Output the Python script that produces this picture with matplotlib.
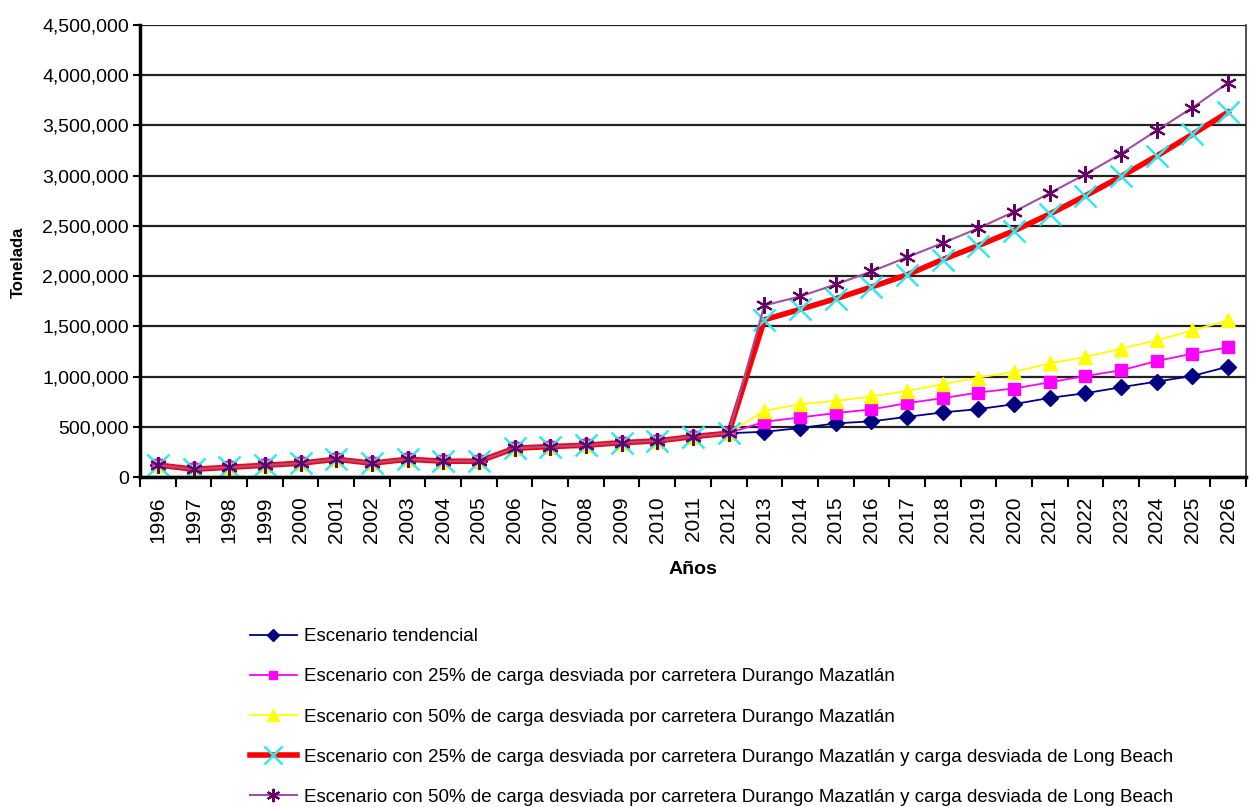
import matplotlib.pyplot as plt
from matplotlib.ticker import FuncFormatter, MultipleLocator

# Años y escenarios (toneladas)
years = list(range(1996, 2027))

base = [120000, 77000, 97000, 117000, 137000, 177000, 137000, 177000, 157000,
        157000, 286000, 303000, 316000, 342000, 359000, 402000, 436000]

tendencial = base + [450000, 487000, 534000, 554000, 599000, 643000, 676000,
                     725000, 788000, 834000, 894000, 950000, 1006000, 1099000]
carga_25 = base + [550000, 593000, 636000, 673000, 735000, 785000, 841000,
                   881000, 943000, 1006000, 1062000, 1155000, 1228000, 1291000]
carga_50 = base + [659000, 725000, 758000, 802000, 857000, 924000, 990000,
                   1046000, 1132000, 1195000, 1278000, 1361000, 1460000, 1560000]
carga_25_lb = base + [1565000, 1669000, 1775000, 1891000, 2013000, 2165000, 2304000,
                      2452000, 2618000, 2800000, 2992000, 3196000, 3412000, 3633000]
carga_50_lb = base + [1708000, 1798000, 1917000, 2046000, 2188000, 2330000, 2476000,
                      2641000, 2826000, 3015000, 3220000, 3451000, 3677000, 3925000]

labels = [
    'Escenario tendencial',
    'Escenario con 25% de carga desviada por carretera Durango Mazatlán',
    'Escenario con 50% de carga desviada por carretera Durango Mazatlán',
    'Escenario con 25% de carga desviada por carretera Durango Mazatlán y carga desviada de Long Beach',
    'Escenario con 50% de carga desviada por carretera Durango Mazatlán y carga desviada de Long Beach',
]

plt.rcParams['font.family'] = ['Liberation Sans', 'DejaVu Sans']

fig = plt.figure(figsize=(12.54, 8.07), dpi=100)
ax = fig.add_axes([140 / 1254, 1 - 477 / 807, (1246 - 140) / 1254, (477 - 25) / 807])

x = list(range(len(years)))

ax.plot(x, tendencial, color='#000080', lw=1.3, marker='D', ms=8,
        mfc='#000080', mec='#000080', label=labels[0])
ax.plot(x, carga_25, color='#FF00FF', lw=1.3, marker='s', ms=8,
        mfc='#FF00FF', mec='#FF00FF', label=labels[1])
ax.plot(x, carga_50, color='#FFFF00', lw=1.3, marker='^', ms=10,
        mfc='#FFFF00', mec='#FFFF00', label=labels[2])
ax.plot(x, carga_25_lb, color='#FF0000', lw=4, marker='x', ms=16, mew=1.8,
        mec='#33E8F0', label=labels[3])
ax.plot(x, carga_50_lb, color='#A050A0', lw=1.5, marker=(6, 2, 0), ms=12, mew=1.5,
        mec='#660066', label=labels[4])

ax.set_xlim(-0.5, len(years) - 0.5)
ax.set_ylim(0, 4500000)

ax.yaxis.set_major_locator(MultipleLocator(500000))
ax.yaxis.set_major_formatter(FuncFormatter(lambda v, p: f'{int(v):,}'))
ax.yaxis.grid(True, color='#222222', lw=1.6)
ax.set_axisbelow(True)

ax.set_xticks(x)
ax.set_xticklabels([str(y) for y in years], rotation=90, fontsize=15)
ax.set_xticks([i - 0.5 for i in range(len(years) + 1)], minor=True)
ax.tick_params(axis='x', which='major', length=0, pad=14)
ax.tick_params(axis='x', which='minor', length=7, width=1.5, direction='out')
ax.tick_params(axis='y', length=5, width=1.5, direction='out', pad=3, labelsize=14)

ax.spines['left'].set_linewidth(2.5)
ax.spines['bottom'].set_linewidth(2.5)
ax.spines['right'].set_linewidth(1.2)
ax.spines['right'].set_color('#333333')
ax.spines['top'].set_visible(False)

fig.text(693 / 1254, 1 - 570 / 807, 'Años', ha='center', va='center',
         fontsize=14, fontweight='bold')
fig.text(18 / 1254, 1 - 262 / 807, 'Tonelada', ha='center', va='center', rotation=90,
         fontsize=12, fontweight='bold')

fig.legend(loc='upper left', bbox_to_anchor=(250 / 1254, 1 - 628 / 807),
           frameon=False, fontsize=13.5, numpoints=1, handlelength=2.5,
           handletextpad=0.4, labelspacing=1.23, borderpad=0, borderaxespad=0,
           markerscale=0.8)

fig.savefig('out.png', dpi=100)
